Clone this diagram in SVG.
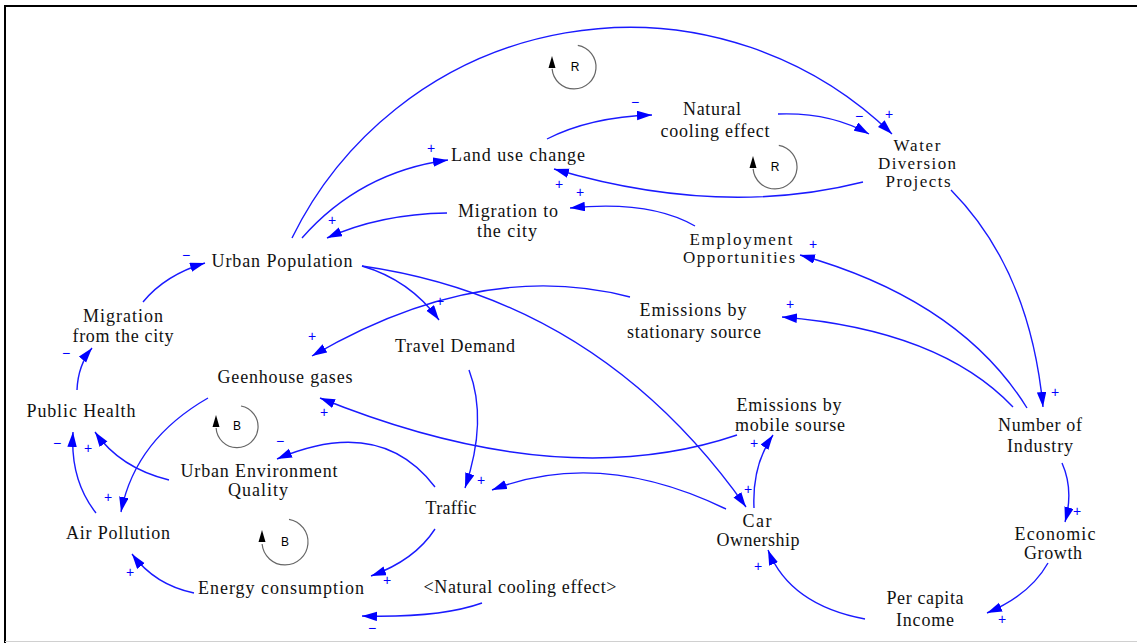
<svg xmlns="http://www.w3.org/2000/svg" width="1137" height="643" viewBox="0 0 1137 643">
  <defs>
    <marker id="arrow" markerUnits="userSpaceOnUse" markerWidth="16" markerHeight="10" refX="15" refY="4.75" orient="auto">
      <path d="M0,0 L15,4.75 L0,9.5 z" fill="#0000ff"/>
    </marker>
    <style>
      .lbl { font-family: "Liberation Serif", "Times New Roman", serif; font-size: 18px; fill: #111; text-anchor: middle; }
      .tight { font-size: 17px; }
      .pol { font-family: "Liberation Sans", Arial, sans-serif; font-size: 14px; fill: #0000ff; text-anchor: middle; }
      .link { fill: none; stroke: #1a1aff; stroke-width: 1.4; marker-end: url(#arrow); }
      .loop { fill: none; stroke: #666; stroke-width: 1.2; }
      .loopHead { fill: #000; }
      .loopTxt { font-family: "Liberation Sans", Arial, sans-serif; font-size: 12px; fill: #000; text-anchor: middle; }
    </style>
  </defs>

  <rect width="1137" height="643" fill="#fff"/>
  <!-- frame -->
  <path d="M5,643 V6 H1137" fill="none" stroke="#000" stroke-width="2"/>
  <line x1="5" y1="641.5" x2="1137" y2="641.5" stroke="#d0d0d0" stroke-width="1"/>

  <!-- connectors -->
  <g id="connectors">
    <path class="link" d="M292,238 A376,376 0 0 1 892,134"/>
    <path class="link" d="M778,114 Q830,112 869,134"/>
    <path class="link" d="M547,139 Q590,117 652,115"/>
    <path class="link" d="M863,182 Q720,218 554,169"/>
    <path class="link" d="M695,226 Q650,200 570,208"/>
    <path class="link" d="M447,213 Q380,214 327,238"/>
    <path class="link" d="M302,238 Q360,172 448,160"/>
    <path class="link" d="M362,266 Q410,280 439,320"/>
    <path class="link" d="M362,266 Q600,300 746,507"/>
    <path class="link" d="M630,297 Q480,258 312,356"/>
    <path class="link" d="M1027,408 Q960,300 800,255"/>
    <path class="link" d="M1013,407 Q940,330 782,317"/>
    <path class="link" d="M951,190 Q1030,270 1043,407"/>
    <path class="link" d="M1062,463 Q1074,490 1065,522"/>
    <path class="link" d="M1048,563 Q1030,595 987,613"/>
    <path class="link" d="M865,619 Q790,605 768,550"/>
    <path class="link" d="M754,508 Q752,465 773,435"/>
    <path class="link" d="M737,435 Q560,495 320,398"/>
    <path class="link" d="M469,370 Q488,420 465,488"/>
    <path class="link" d="M726,509 Q600,448 492,490"/>
    <path class="link" d="M435,487 Q380,415 277,459"/>
    <path class="link" d="M435,529 Q415,560 371,576"/>
    <path class="link" d="M482,603 Q440,618 362,616"/>
    <path class="link" d="M194,593 Q155,585 132,554"/>
    <path class="link" d="M96,513 Q70,480 73,432"/>
    <path class="link" d="M169,480 Q120,468 95,432"/>
    <path class="link" d="M208,398 Q135,440 121,512"/>
    <path class="link" d="M77,390 Q78,365 92,348"/>
    <path class="link" d="M143,302 Q165,275 205,263"/>
  </g>

  <!-- link polarities -->
  <g id="polarities">
    <text class="pol" x="889" y="119">+</text>
    <text class="pol" x="859" y="121">−</text>
    <text class="pol" x="635" y="107">−</text>
    <text class="pol" x="431" y="153">+</text>
    <text class="pol" x="559" y="189">+</text>
    <text class="pol" x="580" y="197">+</text>
    <text class="pol" x="332" y="225">+</text>
    <text class="pol" x="813" y="249">+</text>
    <text class="pol" x="790" y="309">+</text>
    <text class="pol" x="440" y="306">+</text>
    <text class="pol" x="312" y="341">+</text>
    <text class="pol" x="324" y="417">+</text>
    <text class="pol" x="1055" y="397">+</text>
    <text class="pol" x="280" y="446">−</text>
    <text class="pol" x="481" y="485">+</text>
    <text class="pol" x="754" y="448">+</text>
    <text class="pol" x="748" y="494">+</text>
    <text class="pol" x="758" y="571">+</text>
    <text class="pol" x="1077" y="516">+</text>
    <text class="pol" x="1002" y="624">+</text>
    <text class="pol" x="387" y="585">+</text>
    <text class="pol" x="372" y="633">−</text>
    <text class="pol" x="130" y="577">+</text>
    <text class="pol" x="108" y="502">+</text>
    <text class="pol" x="88" y="453">+</text>
    <text class="pol" x="57" y="448">−</text>
    <text class="pol" x="66" y="358">−</text>
    <text class="pol" x="186" y="260">−</text>
  </g>

  <!-- loop identifiers -->
  <g id="loop_R1">
    <path class="loop" d="M577.8,45.3 A22,22 0 1 1 552.1,68.9"/>
    <path class="loopHead" d="M552,56 L548.5,68 L555.5,68 z"/>
    <text class="loopTxt" x="575" y="71">R</text>
  </g>
  <g id="loop_R2">
    <path class="loop" d="M778.8,145.3 A22,22 0 1 1 753.1,168.9"/>
    <path class="loopHead" d="M753,156 L749.5,168 L756.5,168 z"/>
    <text class="loopTxt" x="775" y="171">R</text>
  </g>
  <g id="loop_B1">
    <path class="loop" d="M241,406 A21,21 0 1 1 216.1,428"/>
    <path class="loopHead" d="M216,415 L212.5,427 L219.5,427 z"/>
    <text class="loopTxt" x="237" y="430">B</text>
  </g>
  <g id="loop_B2">
    <path class="loop" d="M289,519.3 A23,23 0 1 1 262.1,544"/>
    <path class="loopHead" d="M262,530 L258.5,542 L265.5,542 z"/>
    <text class="loopTxt" x="285" y="546">B</text>
  </g>

  <!-- variables -->
  <g id="land_use_change"><text class="lbl" x="518" y="161" textLength="134">Land use change</text></g>
  <g id="natural_cooling_effect">
    <text class="lbl" x="712" y="115" textLength="58">Natural</text>
    <text class="lbl" x="715" y="137" textLength="109">cooling effect</text>
  </g>
  <g id="water_diversion_projects">
    <text class="lbl tight" x="917" y="151" textLength="47">Water</text>
    <text class="lbl tight" x="917" y="169" textLength="78">Diversion</text>
    <text class="lbl tight" x="918" y="187" textLength="65">Projects</text>
  </g>
  <g id="migration_to_the_city">
    <text class="lbl" x="508" y="217" textLength="100">Migration to</text>
    <text class="lbl" x="507" y="237" textLength="60">the city</text>
  </g>
  <g id="employment_opportunities">
    <text class="lbl tight" x="741" y="245" textLength="103">Employment</text>
    <text class="lbl tight" x="739" y="263" textLength="112">Opportunities</text>
  </g>
  <g id="urban_population"><text class="lbl" x="282" y="267" textLength="141">Urban Population</text></g>
  <g id="migration_from_the_city">
    <text class="lbl" x="123" y="322" textLength="80">Migration</text>
    <text class="lbl" x="123" y="342" textLength="101">from the city</text>
  </g>
  <g id="emissions_stationary">
    <text class="lbl" x="693" y="316" textLength="107">Emissions by</text>
    <text class="lbl" x="694" y="338" textLength="134">stationary source</text>
  </g>
  <g id="travel_demand"><text class="lbl" x="455" y="352" textLength="120">Travel Demand</text></g>
  <g id="greenhouse_gases"><text class="lbl" x="285" y="383" textLength="135">Geenhouse gases</text></g>
  <g id="public_health"><text class="lbl" x="81" y="417" textLength="109">Public Health</text></g>
  <g id="emissions_mobile">
    <text class="lbl" x="789" y="411" textLength="105">Emissions by</text>
    <text class="lbl" x="790" y="431" textLength="110">mobile sourse</text>
  </g>
  <g id="number_of_industry">
    <text class="lbl" x="1040" y="431" textLength="84">Number of</text>
    <text class="lbl" x="1040" y="452" textLength="66">Industry</text>
  </g>
  <g id="urban_environment_quality">
    <text class="lbl" x="259" y="477" textLength="157">Urban Environment</text>
    <text class="lbl" x="258" y="496" textLength="60">Quality</text>
  </g>
  <g id="traffic"><text class="lbl" x="451" y="514" textLength="51">Traffic</text></g>
  <g id="car_ownership">
    <text class="lbl" x="757" y="527" textLength="29">Car</text>
    <text class="lbl" x="758" y="546" textLength="83">Ownership</text>
  </g>
  <g id="air_pollution"><text class="lbl" x="118" y="539" textLength="104">Air Pollution</text></g>
  <g id="economic_growth">
    <text class="lbl" x="1055" y="540" textLength="81">Economic</text>
    <text class="lbl" x="1053" y="559" textLength="58">Growth</text>
  </g>
  <g id="energy_consumption"><text class="lbl" x="281" y="594" textLength="166">Energy consumption</text></g>
  <g id="natural_cooling_effect_shadow"><text class="lbl" x="520" y="593" textLength="193">&lt;Natural cooling effect&gt;</text></g>
  <g id="per_capita_income">
    <text class="lbl" x="925" y="604" textLength="77">Per capita</text>
    <text class="lbl" x="925" y="626" textLength="58">Income</text>
  </g>
</svg>
